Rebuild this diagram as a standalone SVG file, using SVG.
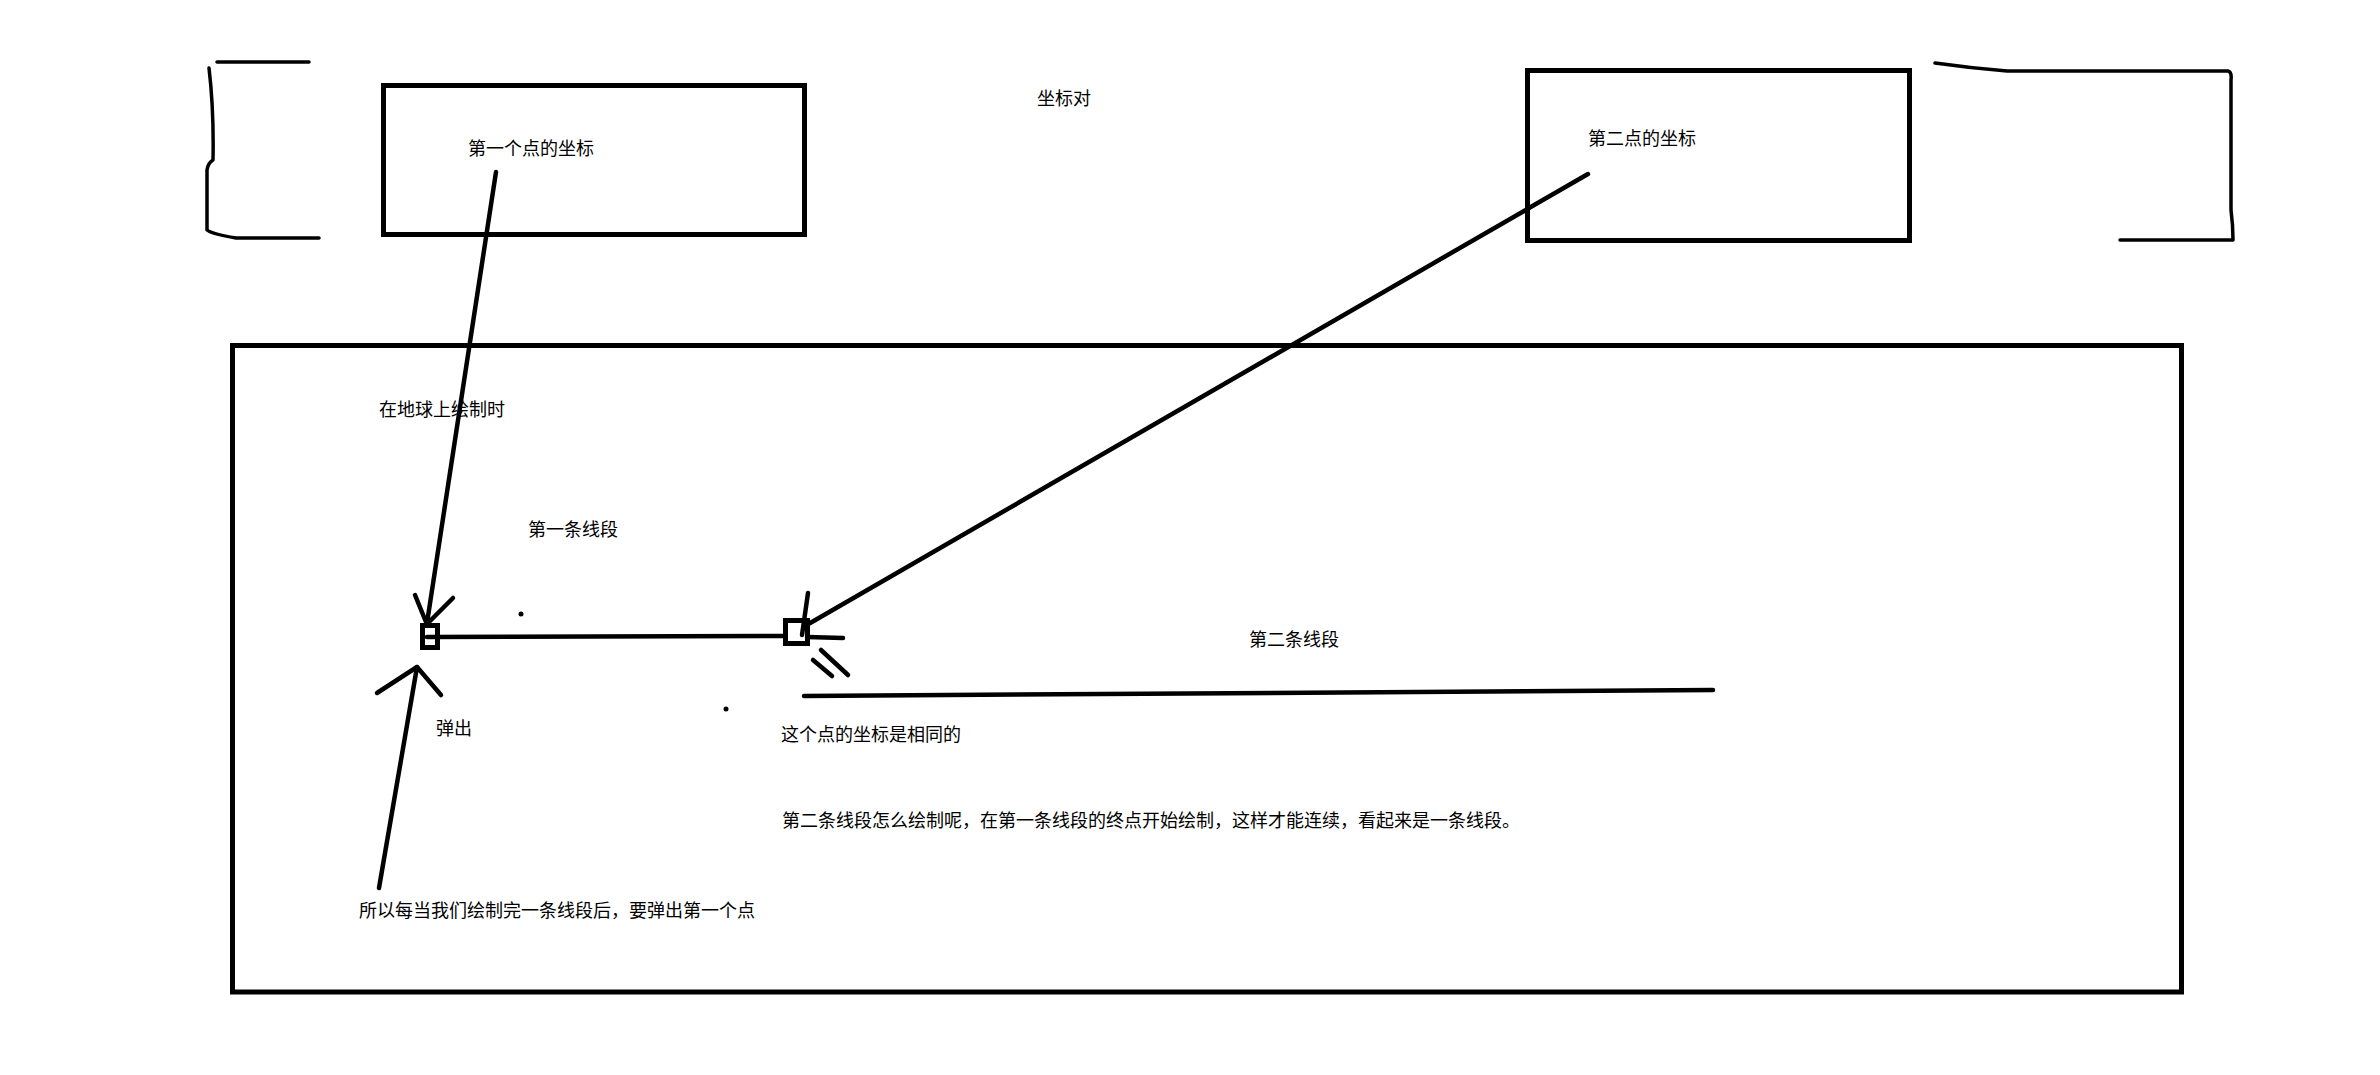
<svg xmlns="http://www.w3.org/2000/svg" width="2380" height="1075" viewBox="0 0 2380 1075">
<style>
  .t { font-family: "Noto Sans CJK SC", "Liberation Sans", sans-serif; font-size: 18px; fill: #000; }
  .box { fill: none; stroke: #000; stroke-width: 5; }
  .ln { fill: none; stroke: #000; stroke-width: 4.5; stroke-linecap: round; stroke-linejoin: round; }
  .thin { fill: none; stroke: #000; stroke-width: 3.5; stroke-linecap: round; stroke-linejoin: round; }
</style>
<rect width="2380" height="1075" fill="#fff"/>

<g id="bracket-left">
  <path class="thin" d="M217,62 L309,62 M209,68 Q214,110 213,160 Q208,163 207,170 L207,230 Q212,234 236,238 L319,238"/>
</g>
<g id="bracket-right">
  <path class="thin" d="M1935,63 Q1970,68 2007,71 L2228,71 Q2232,72 2231,80 L2231,210 Q2233,225 2233,240 L2120,240"/>
</g>

<g id="box-first-point">
  <rect class="box" x="383.5" y="85.5" width="421" height="149"/>
  <text class="t" x="468" y="155">第一个点的坐标</text>
</g>

<g id="title">
  <text class="t" x="1037" y="105">坐标对</text>
</g>

<g id="box-second-point">
  <rect class="box" x="1527.5" y="70.5" width="382" height="170"/>
  <text class="t" x="1588" y="145">第二点的坐标</text>
</g>

<g id="globe-frame">
  <rect class="box" x="232.5" y="345.5" width="1949" height="646.5"/>
  <text class="t" x="379" y="416">在地球上绘制时</text>
  <text class="t" x="528" y="536">第一条线段</text>
  <text class="t" x="1249" y="646">第二条线段</text>
  <text class="t" x="781" y="741">这个点的坐标是相同的</text>
  <text class="t" x="782" y="827">第二条线段怎么绘制呢，在第一条线段的终点开始绘制，这样才能连续，看起来是一条线段。</text>
  <text class="t" x="436" y="735">弹出</text>
  <text class="t" x="359" y="917">所以每当我们绘制完一条线段后，要弹出第一个点</text>
</g>

<g id="point-1">
  <rect class="box" x="422.5" y="625.5" width="15" height="22"/>
</g>
<g id="point-2">
  <rect class="box" x="785.5" y="620.5" width="22" height="23"/>
</g>

<g id="dots">
  <circle cx="521" cy="614" r="2.5" fill="#000"/>
  <circle cx="726" cy="709" r="2.5" fill="#000"/>
</g>

<g id="connectors">
  <!-- first point arrow -->
  <path class="ln" d="M496,172 L427,623"/>
  <path class="ln" d="M415,595 L426,622 M453,598 L428,623"/>
  <!-- first segment -->
  <path class="ln" d="M427,637 L785,636"/>
  <path class="ln" d="M807,637 L843,638"/>
  <!-- second point arrow -->
  <path class="ln" d="M1588,174 L805,626"/>
  <path class="ln" d="M808,593 L802,635"/>
  <path class="ln" d="M821,650 L848,675 M813,660 L832,676"/>
  <!-- second segment -->
  <path class="ln" d="M804,696 L1713,690"/>
  <!-- pop arrow -->
  <path class="ln" d="M377,693 L417,667 L441,695"/>
  <path class="ln" d="M417,667 L379,888"/>
</g>
</svg>
